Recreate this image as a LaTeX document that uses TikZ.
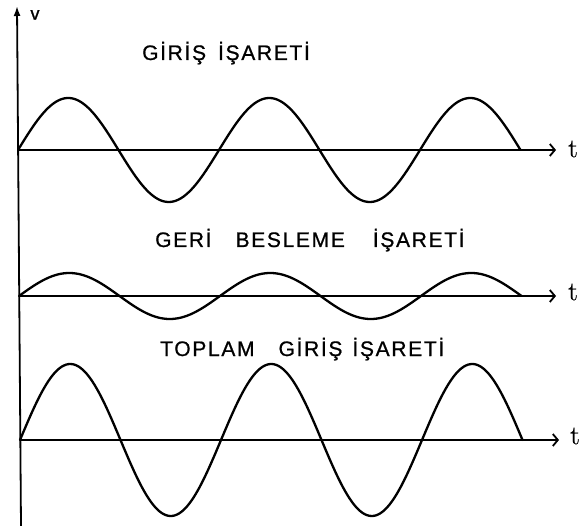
\documentclass[tikz,border=0pt]{standalone}
\usepackage{fontspec}
\newfontfamily\letfont[LetterSpace=8,FakeBold=0.8]{Liberation Sans}
\newfontfamily\vfont[FakeBold=1]{Liberation Sans}
\newfontfamily\tfont[FakeBold=0.6]{Latin Modern Roman}
\usetikzlibrary{arrows.meta}
\begin{document}
\begin{tikzpicture}[x=1pt,y=-1pt,
  axis/.style={line width=1.8pt},
  harrow/.style={axis,-{Straight Barb[length=5pt,width=12pt,line width=1.8pt]}},
  wave/.style={line width=2.3pt,line join=round,line cap=round},
  title/.style={inner sep=0pt,anchor=base west,font=\letfont\fontsize{21}{24}\selectfont},
  tlab/.style={inner sep=0pt,anchor=west,font=\tfont\fontsize{27}{30}\selectfont}]
\useasboundingbox (0,0) rectangle (583,526);
% vertical axis
\coordinate (vb) at (21,526);
\coordinate (vt) at (17,6);
\draw[axis,-{Latex[length=10pt,width=7pt]}] (vb) -- (vt);
\node[inner sep=0pt,font=\vfont\fontsize{18}{19}\selectfont] (v) at (35,15) {v};
% horizontal axes
\coordinate (o1) at (18,150);  \coordinate (e1) at (556,150);
\coordinate (o2) at (19,296);  \coordinate (e2) at (556,296);
\coordinate (o3) at (20,440);  \coordinate (e3) at (559,440);
\draw[harrow] (o1) -- (e1);
\draw[harrow] (o2) -- (e2);
\draw[harrow] (o3) -- (e3);
\node[tlab] (t1) at (568,149) {t};
\node[tlab] (t2) at (568,292) {t};
\node[tlab] (t3) at (570,436) {t};
% waves
\draw[wave] plot[domain=0:502.5,samples=250,smooth] ({18+\x},{150-52*sin(\x*1.791)});
\draw[wave] plot[domain=0:502.5,samples=250,smooth] ({19+\x},{296-23*sin(\x*1.791)});
\draw[wave] plot[domain=0:502.5,samples=250,smooth] ({20+\x},{440-76*sin(\x*1.791)});
% labels
\node[title] (l1) at (142,60) {GİRİŞ\hspace{12pt}İŞARETİ};
\node[title] (l2) at (155,247) {GERİ\hspace{24pt}BESLEME\hspace{28pt}İŞARETİ};
\node[title] (l3) at (160,356) {TOPLAM\hspace{24pt}GİRİŞ\hspace{10pt}İŞARETİ};
\end{tikzpicture}
\end{document}
